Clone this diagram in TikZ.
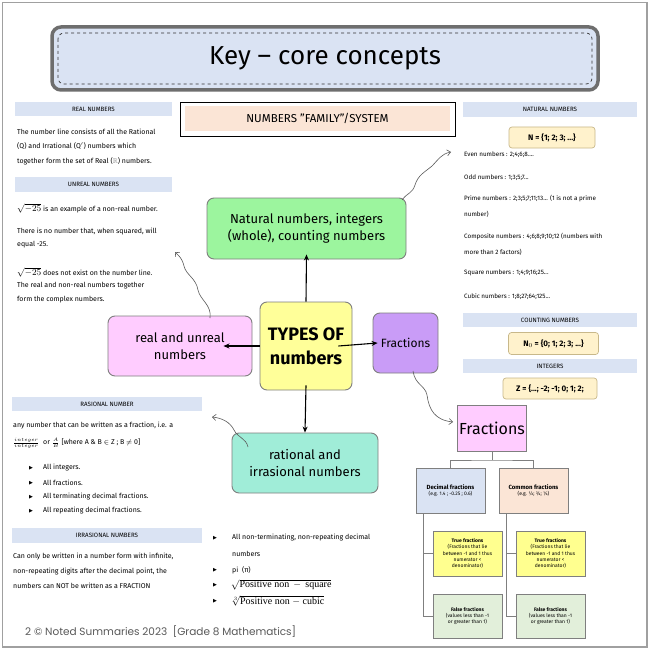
\documentclass[tikz,border=0pt]{standalone}
\usepackage{amssymb}
\usepackage{fontspec}
\setmainfont{Fira Sans}
\newfontfamily\footf{Poppins}
\newfontfamily\timesf{Liberation Serif}
\newfontfamily\symf{DejaVu Sans}
\usetikzlibrary{arrows.meta}
\definecolor{barblue}{HTML}{DAE3F3}
\definecolor{peach}{HTML}{FBE5D6}
\definecolor{natgreen}{HTML}{9CF59E}
\definecolor{typyellow}{HTML}{FFFF99}
\definecolor{pinkc}{HTML}{FFCCFF}
\definecolor{purplec}{HTML}{C99CF7}
\definecolor{tealc}{HTML}{A0EDD8}
\definecolor{setyellow}{HTML}{FFF2CC}
\definecolor{setborder}{HTML}{C8B88A}
\definecolor{trueyellow}{HTML}{FFFF8F}
\definecolor{falsegreen}{HTML}{E2EFDA}
\definecolor{boxgray}{HTML}{7F7F7F}
\definecolor{framegray}{HTML}{A0A0A0}
\definecolor{titleborder}{HTML}{6E6E6E}
\definecolor{footgray}{HTML}{595959}
\definecolor{wavegray}{HTML}{5A5A5A}
\newcommand{\bulsym}{{\symf\fontsize{5}{6}\selectfont ▶}}
\newcommand{\rootm}{{\fontsize{9}{9}\selectfont$\sqrt{-25}$}}
\tikzset{
  txt/.style={anchor=west, inner sep=0pt, font=\fontsize{7}{8}\selectfont},
  rtxt/.style={anchor=west, inner sep=0pt, font=\fontsize{6.3}{7.5}\selectfont},
  bul/.style={anchor=center, inner sep=0pt},
  bar/.style={fill=barblue, inner sep=0pt, font=\fontsize{6.2}{7}\selectfont},
  big/.style={draw=boxgray, line width=0.9pt, rounded corners=7pt, align=center, inner sep=0pt},
  arr/.style={draw=black, line width=1.1pt, -{Stealth[length=6pt,width=5pt]}},
  wavy/.style={draw=wavegray, line width=0.6pt, -{Straight Barb[length=3.5pt,width=6pt]}},
  setbox/.style={draw=setborder, line width=0.7pt, fill=setyellow, rounded corners=3pt, inner sep=0pt, font=\bfseries\fontsize{8}{9}\selectfont},
  fbox/.style={draw=boxgray, line width=0.8pt, inner sep=0pt, align=center},
  small/.style={font=\fontsize{5}{6.4}\selectfont},
  tree/.style={draw=boxgray, line width=0.7pt}
}
\begin{document}
\begin{tikzpicture}[x=1pt,y=-1pt]
\useasboundingbox (0,0) rectangle (650,650);
\fill[white] (0,0) rectangle (650,650);
\draw[framegray, line width=1.2pt] (2.5,2.5) rectangle (647,647);

% title
\node[draw=titleborder, line width=3.5pt, fill=barblue, rounded corners=9pt,
      minimum width=546pt, minimum height=63pt, inner sep=0pt,
      font=\fontsize{26}{28}\selectfont] (title) at (325,58.5) {Key -- core concepts};
\draw[dashed, gray!40!black, line width=0.7pt, rounded corners=6pt] (58,33) rectangle (592,84);

% ---------- left column
\node[bar, minimum width=157pt, minimum height=14pt] (hreal) at (93.5,109) {REAL NUMBERS};
\node[txt] (r1) at (17,132) {The number line consists of all the Rational};
\node[txt] (r2) at (17,146) {(Q) and Irrational (Q$'$) numbers which};
\node[txt] (r3) at (17,161) {together form the set of Real ({\color{gray}$\mathbb{R}$}) numbers.};

\node[bar, minimum width=157pt, minimum height=15pt] (hunreal) at (93.5,184.5) {UNREAL NUMBERS};
\node[txt] (u1) at (17,208) {\rootm\ is an example of a non-real number.};
\node[txt] (u2) at (17,232) {There is no number that, when squared, will};
\node[txt] (u3) at (17,245) {equal -25.};
\node[txt] (u4) at (17,272) {\rootm\ does not exist on the number line.};
\node[txt] (u5) at (17,286) {The real and non-real numbers together};
\node[txt] (u6) at (17,300) {form the complex numbers.};

\node[bar, minimum width=190pt, minimum height=14pt] (hrat) at (107,404) {RASIONAL NUMBER};
\node[txt] (q1) at (13,426) {any number that can be written as a fraction, i.e. a};
\node[txt] (q2) at (13,443) {$\frac{integer}{integer}$\ \ or\ $\frac{A}{B}$ [where A \& B $\in$ Z ; B $\neq$ 0]};
\node[bul] (qb1) at (31,468) {\bulsym};
\node[txt] (q3) at (43,468) {All integers.};
\node[bul] (qb2) at (31,483) {\bulsym};
\node[txt] (q4) at (43,483) {All fractions.};
\node[bul] (qb3) at (31,497) {\bulsym};
\node[txt] (q5) at (43,497) {All terminating decimal fractions.};
\node[bul] (qb4) at (31,511) {\bulsym};
\node[txt] (q6) at (43,511) {All repeating decimal fractions.};

\node[bar, minimum width=190pt, minimum height=15pt] (hirr) at (107,535.5) {IRRASIONAL NUMBERS};
\node[txt] (i1) at (13,557) {Can only be written in a number form with infinite,};
\node[txt] (i2) at (13,572) {non-repeating digits after the decimal point, the};
\node[txt] (i3) at (13,586) {numbers can NOT be written as a FRACTION};

% middle list
\node[bul] (mb1) at (215,538) {\bulsym};
\node[txt] (m1) at (232,538) {All non-terminating, non-repeating decimal};
\node[txt] (m2) at (232,554) {numbers};
\node[bul] (mb2) at (215,570) {\bulsym};
\node[txt] (m3) at (232,570) {pi\ \ (π)};
\node[bul] (mb3) at (215,585) {\bulsym};
\node[txt, font=\timesf\fontsize{10}{10}\selectfont] (m4) at (231,585) {$\sqrt{\hbox{\timesf Positive non \,$-$\, square}}$};
\node[bul] (mb4) at (215,601) {\bulsym};
\node[txt, font=\timesf\fontsize{10}{10}\selectfont] (m5) at (231,601) {$\sqrt[3]{\hbox{\timesf Positive non $-$ cubic}}$};

% footer
\node[anchor=west, inner sep=0pt, font=\footf\fontsize{10.5}{12}\selectfont, text=footgray] (foot) at (25,632) {2 © Noted Summaries 2023~~[Grade 8 Mathematics]};

% ---------- center
\draw[black, line width=0.8pt] (180,102) rectangle (455,136);
\node[fill=peach, minimum width=265pt, minimum height=25pt, inner sep=0pt, font=\fontsize{11.5}{13}\selectfont] (fam) at (317.5,118.5) {NUMBERS "FAMILY"/SYSTEM};

\node[big, fill=natgreen, minimum width=199pt, minimum height=61pt, font=\fontsize{13}{17}\selectfont] (nat) at (306.5,228.5) {Natural numbers, integers\\(whole), counting numbers};
\node[big, fill=typyellow, minimum width=92pt, minimum height=88pt, font=\bfseries\fontsize{18}{24}\selectfont] (types) at (306,346) {TYPES OF\\numbers};
\node[big, fill=pinkc, minimum width=144pt, minimum height=60pt, font=\fontsize{13}{17}\selectfont] (real) at (180,346) {real and unreal\\numbers};
\node[big, fill=purplec, minimum width=65pt, minimum height=60pt, font=\fontsize{12}{14}\selectfont] (fr) at (405.5,343) {Fractions};
\node[big, fill=tealc, minimum width=146pt, minimum height=60pt, font=\fontsize{13}{17}\selectfont] (rat) at (305,463) {rational and\\irrasional numbers};

\draw[arr] (types.north) -- ([yshift=5pt]nat.south);
\draw[arr] (types.west) -- ([xshift=-29pt]real.east);
\draw[arr] ([xshift=-14pt]types.east) -- ([xshift=5pt]fr.west);
\draw[arr] ([yshift=5pt]types.south) -- (rat.north);

% wavy arrows
\coordinate (w1s) at (402,200);
\coordinate (w1e) at (451,152);
\draw[wavy] (w1s) .. controls (408,192) and (412,194) .. (415,185) .. controls (418,175) and (425,172) .. (432,166) .. controls (438,160) and (441,154) .. (w1e);
\coordinate (w2s) at (210,318);
\coordinate (w2e) at (175,252);
\draw[wavy] (w2s) .. controls (212,305) and (200,300) .. (198,290) .. controls (196,278) and (186,275) .. (184,266) .. controls (182,258) and (179,256) .. (w2e);
\coordinate (w3s) at (248,447);
\coordinate (w3e) at (212,417);
\draw[wavy] (w3s) .. controls (246,438) and (238,438) .. (234,430) .. controls (230,422) and (222,418) .. (w3e);
\coordinate (w4s) at (413,371);
\coordinate (w4e) at (453,422);
\draw[wavy] (w4s) .. controls (415,385) and (425,385) .. (427,395) .. controls (429,410) and (435,420) .. (w4e);

% ---------- right column
\node[bar, minimum width=174pt, minimum height=15pt] (hnat) at (550,109.5) {NATURAL NUMBERS};
\node[setbox, minimum width=86pt, minimum height=21pt] (nset) at (552,137.5) {N = \{1; 2; 3; ...\}};
\node[rtxt] (n1) at (464,155) {Even numbers : 2;4;6;8....};
\node[rtxt] (n2) at (464,178) {Odd numbers : 1;3;5;7...};
\node[rtxt] (n3) at (464,199) {Prime numbers : 2;3;5;7;11;13... (1 is not a prime};
\node[rtxt] (n4) at (464,214) {number)};
\node[rtxt] (n5) at (464,237) {Composite numbers : 4;6;8;9;10;12 (numbers with};
\node[rtxt] (n6) at (464,252) {more than 2 factors)};
\node[rtxt] (n7) at (464,273) {Square numbers : 1;4;9;16;25...};
\node[rtxt] (n8) at (464,297) {Cubic numbers : 1;8;27;64;125...};

\node[bar, minimum width=174pt, minimum height=14pt] (hcount) at (550,320) {COUNTING NUMBERS};
\node[setbox, minimum width=90pt, minimum height=22pt] (n0set) at (553.5,343.5) {N$_0$ = \{0; 1; 2; 3; ...\}};
\node[bar, minimum width=174pt, minimum height=14pt] (hint) at (550,366) {INTEGERS};
\node[setbox, minimum width=94pt, minimum height=21pt] (zset) at (550,388.5) {Z = \{...; -2; -1; 0; 1; 2;};

% fractions tree
\node[fbox, fill=pinkc, minimum width=69pt, minimum height=46pt, font=\fontsize{16}{18}\selectfont] (frac) at (492,428) {Fractions};
\node[fbox, fill=barblue, minimum width=69pt, minimum height=45pt, small] (dec) at (450.5,490.5) {{\bfseries\fontsize{6}{8}\selectfont Decimal fractions}\\(e.g. 1.4 ; -0.25 ; 0.6)};
\node[fbox, fill=peach, minimum width=69pt, minimum height=45pt, small] (comm) at (533.5,490.5) {{\bfseries\fontsize{6}{8}\selectfont Common fractions}\\(e.g. ½; ¾; ¼)};
\node[fbox, fill=trueyellow, minimum width=69pt, minimum height=45pt, small] (true1) at (467.5,553.5) {{\bfseries True fractions}\\(Fractions that lie\\between -1 and 1 thus\\numerator <\\denominator)};
\node[fbox, fill=falsegreen, minimum width=69pt, minimum height=44pt, small] (false1) at (467.5,616) {{\bfseries False fractions}\\(values less than -1\\or greater than 1)};
\node[fbox, fill=trueyellow, minimum width=69pt, minimum height=45pt, small] (true2) at (550.5,553.5) {{\bfseries True fractions}\\(Fractions that lie\\between -1 and 1 thus\\numerator <\\denominator)};
\node[fbox, fill=falsegreen, minimum width=69pt, minimum height=44pt, small] (false2) at (550.5,616) {{\bfseries False fractions}\\(values less than -1\\or greater than 1)};

\coordinate (fj) at (492,460);
\draw[tree] (frac.south) -- (fj);
\draw[tree] (dec.north) |- (fj) -| (comm.north);
\draw[tree] ([xshift=-27.5pt]dec.south) |- (true1.west);
\draw[tree] ([xshift=-27.5pt]dec.south) |- (false1.west);
\draw[tree] ([xshift=-27.5pt]comm.south) |- (true2.west);
\draw[tree] ([xshift=-27.5pt]comm.south) |- (false2.west);
\end{tikzpicture}
\end{document}
